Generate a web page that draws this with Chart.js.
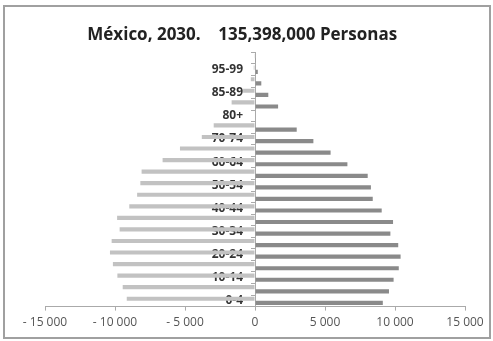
<!DOCTYPE html>
<html>
<head>
<meta charset="utf-8">
<script src="https://cdn.jsdelivr.net/npm/chart.js@4"></script>
<style>
  html, body { margin: 0; padding: 0; background: #fff; }
  #frame {
    position: absolute; left: 3px; top: 5px;
    width: 484px; height: 330px;
    border: 2px solid #a0a0a0;
  }
  #chart { position: absolute; left: 0; top: 0; }
</style>
</head>
<body>
<div id="frame"></div>
<canvas id="chart" width="493" height="341"></canvas>
<script>
// Age groups, bottom to top (the source sheet has an empty "80+" row)
const ageGroups = ['0-4', '5-9', '10-14', '15-19', '20-24', '25-29', '30-34', '35-39',
    '40-44', '45-49', '50-54', '55-59', '60-64', '65-69', '70-74', '75-79',
    '80+', '80-84', '85-89', '90-94', '95-99', '100+'];

// Thousands of people, men drawn to the left
const men = [-9160, -9450, -9830, -10150, -10360, -10240, -9670, -9850,
    -8980, -8420, -8190, -8100, -6600, -5360, -3800, -2950,
    0, -1670, -850, -300, -90, -20];

const women = [9130, 9570, 9900, 10270, 10400, 10230, 9670, 9860,
    9050, 8410, 8280, 8050, 6600, 5400, 4170, 2980,
    0, 1650, 950, 450, 200, 60];

const xTicks = [-15000, -10000, -5000, 0, 5000, 10000, 15000];

const chartTitle = 'México, 2030.    135,398,000 Personas';

// Format numbers like "- 15 000"
function formatTick(value) {
    const abs = Math.abs(value).toString().replace(/\B(?=(\d{3})+(?!\d))/g, ' ');
    return value < 0 ? '- ' + abs : abs;
}

document.addEventListener('DOMContentLoaded', () => {
    const ctx = document.getElementById('chart');

    new Chart(ctx, {
        type: 'bar',
        data: {
            labels: ageGroups,
            datasets: [{
                label: 'Hombres',
                data: men,
                backgroundColor: '#c2c2c2',
                categoryPercentage: 0.72,
                barPercentage: 1.0
            }, {
                label: 'Mujeres',
                data: women,
                backgroundColor: '#8a8a8a',
                categoryPercentage: 0.72,
                barPercentage: 1.0
            }]
        },
        options: {
            indexAxis: 'y',
            responsive: false,
            animation: false,
            layout: {
                padding: { left: 45, right: 28, top: 0, bottom: 6 }
            },
            plugins: {
                legend: { display: false },
                tooltip: { enabled: false },
                title: {
                    display: true,
                    // trailing spaces pull the centred title a bit to the left
                    text: chartTitle + '\u2002\u2002\u2002',
                    color: '#222',
                    font: { family: 'Open Sans', size: 17, weight: 'bold' },
                    padding: { top: 25, bottom: 7 }
                }
            },
            scales: {
                x: {
                    min: -15000,
                    max: 15000,
                    afterBuildTicks: (scale) => {
                        scale.ticks = xTicks.map(v => ({ value: v }));
                    },
                    grid: {
                        drawOnChartArea: false,
                        color: '#aaa',
                        tickLength: 4
                    },
                    border: { color: '#aaa' },
                    ticks: {
                        color: '#555',
                        font: { family: 'Open Sans', size: 12 },
                        padding: 5,
                        maxRotation: 0,
                        callback: (value) => formatTick(value)
                    }
                },
                y: {
                    reverse: true,
                    position: { x: 0 },
                    z: 1,
                    grid: {
                        drawOnChartArea: false,
                        color: '#aaa',
                        tickLength: 4
                    },
                    border: { color: '#aaa' },
                    ticks: {
                        autoSkip: false,
                        color: '#333',
                        font: { family: 'Open Sans', size: 12, weight: 'bold' },
                        // en spaces keep the label clear of the axis line
                        callback: (value, index) => index % 2 === 0 ? ageGroups[index] + '\u2002\u2002' : ''
                    }
                }
            }
        }
    });
});
</script>
</body>
</html>
